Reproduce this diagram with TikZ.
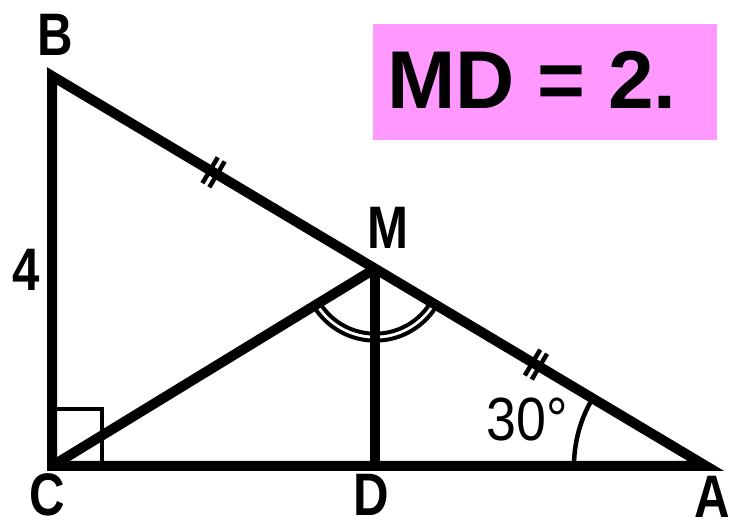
\documentclass[tikz,border=0pt]{standalone}
\usepackage{fontspec}
\setmainfont{Liberation Sans}
\usepackage{graphicx}
\usetikzlibrary{calc}

\definecolor{boxpink}{HTML}{FF99FF}
\newcommand{\narrowtxt}[1]{\scalebox{0.82}[1]{#1}}

\begin{document}
\begin{tikzpicture}[x=1pt,y=1pt]

\tikzstyle{every node}=[inner sep=0pt,anchor=center];
\tikzstyle{vlabel}=[font=\fontsize{60}{60}\selectfont\bfseries];
\tikzstyle{side}=[line width=10pt,line join=miter];
\tikzstyle{markline}=[line width=4.5pt];

\useasboundingbox (0,0) rectangle (730,529);

% Triangle corners
\coordinate (C) at (52,63);
\coordinate (B) at (52,453);
\coordinate (A) at (706,63);
\coordinate (M) at ($(B)!0.494!(A)$);
\coordinate (D) at (M |- C);

% Answer box
\fill[boxpink] (373,389) rectangle (717,505);
\node (res) at (532,449) {\fontsize{82}{82}\selectfont\bfseries MD = 2.};

% Right angle and angle marks
\draw[markline] (C) rectangle ++(50,57);
\draw[markline] ($(A)+(180:132)$) arc[start angle=180,end angle=149.2,radius=132];
\draw[line width=4pt] ($(M)+(211.4:65)$) arc[start angle=211.4,end angle=329.2,radius=65];
\draw[line width=4pt] ($(M)+(211.4:72)$) arc[start angle=211.4,end angle=329.2,radius=72];

% Segments
\draw[side] (C) -- (M);
\draw[side] (M) -- (D);
\draw[side] (B) -- (A) -- (C) -- cycle;

% Equal halves of AB
\foreach \t/\name in {0.247/t1,0.74/t2} {
  \coordinate (\name) at ($(B)!\t!(A)$);
  \draw[markline] ($($(\name)!4pt!(A)$)!15pt!90:(A)$) -- ($($(\name)!4pt!(A)$)!15pt!-90:(A)$);
  \draw[markline] ($($(\name)!-4pt!(A)$)!15pt!90:(A)$) -- ($($(\name)!-4pt!(A)$)!15pt!-90:(A)$);
}

% Labels
\node[vlabel] (lb) at (55,494) {\narrowtxt{B}};
\node[vlabel] (lc) at (47,34) {\narrowtxt{C}};
\node[vlabel] (ld) at (371,34) {\narrowtxt{D}};
\node[vlabel] (la) at (712,32) {\narrowtxt{A}};
\node[vlabel] (lm) at (388,301) {\narrowtxt{M}};
\node[vlabel] (lside) at (26,259) {\narrowtxt{4}};
\node[font=\fontsize{61}{61}\selectfont] (lang) at (527,109) {\scalebox{0.88}[1]{30\textdegree}};

\end{tikzpicture}
\end{document}
